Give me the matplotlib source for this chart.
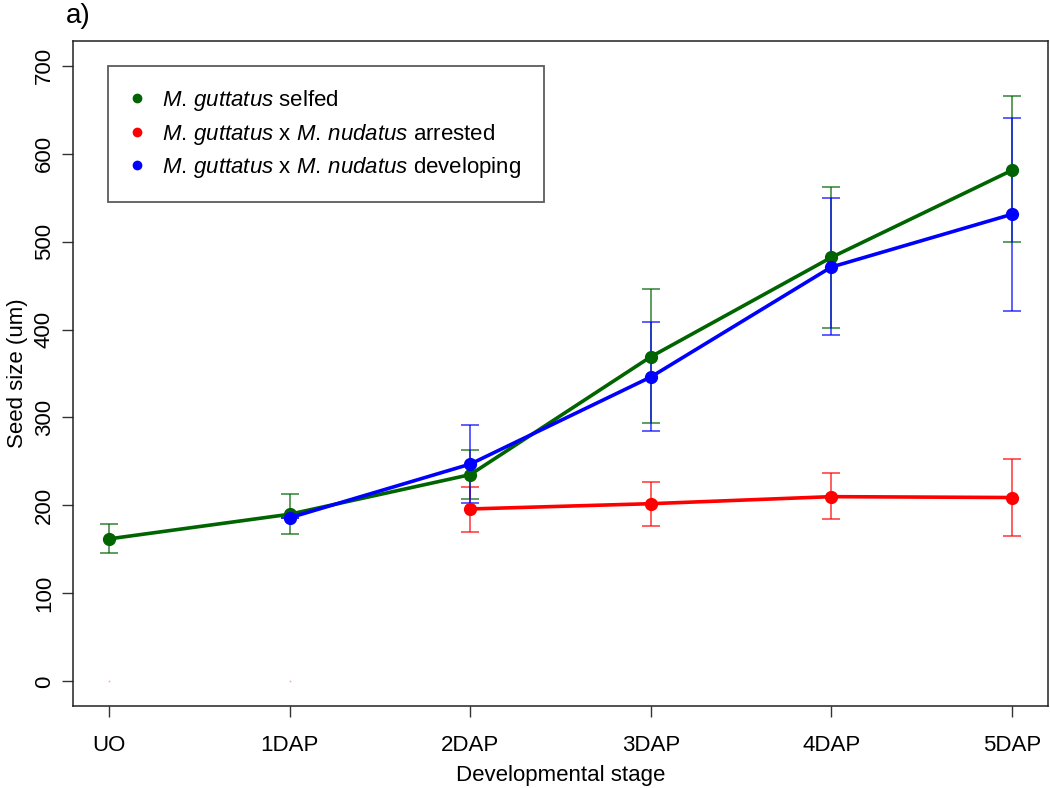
import numpy as np
import matplotlib.pyplot as plt
from matplotlib.lines import Line2D

plt.rcParams.update({
    'font.family': 'Liberation Sans',
    'mathtext.fontset': 'custom',
    'mathtext.rm': 'Liberation Sans',
    'mathtext.it': 'Liberation Sans:italic',
})

# ---- data ----
stages = ['UO', '1DAP', '2DAP', '3DAP', '4DAP', '5DAP']

selfed_mean = [162, 190, 235, 369, 482, 581]
selfed_lo = [146, 168, 207, 294, 402, 499]
selfed_hi = [179, 213, 263, 446, 562, 665]

arrested_mean = [196, 202, 210, 209]
arrested_lo = [170, 177, 185, 165]
arrested_hi = [221, 227, 237, 253]
arrested_zero = [0, 0]   # UO and 1DAP plotted as zero

developing_mean = [186, 247, 346, 471, 531]
developing_lo = [186, 203, 285, 394, 421]
developing_hi = [186, 292, 408, 549, 640]

x = np.arange(len(stages))

fig = plt.figure(figsize=(10.5, 7.88), dpi=100)
ax = fig.add_axes([73/1050, 82/788, 975/1050, 665/788])

def series(xs, mean, lo, hi, col):
    mean = np.array(mean); lo = np.array(lo); hi = np.array(hi)
    ax.errorbar(xs, mean, yerr=[mean - lo, hi - mean], fmt='none', ecolor=col,
                elinewidth=1.1, capsize=6.5, capthick=1.1, alpha=0.8, zorder=2)
    ax.plot(xs, mean, '-o', color=col, lw=2.6, ms=8.5, zorder=3)

series(x, selfed_mean, selfed_lo, selfed_hi, '#006400')
series(x[2:], arrested_mean, arrested_lo, arrested_hi, '#ff0000')
series(x[1:], developing_mean, developing_lo, developing_hi, '#0000ff')
ax.plot(x[:2], arrested_zero, 's', color='#ffaaaa', ms=1.2, mew=0, zorder=3)

ax.set_xlim(-0.2, 5.2)
ax.set_ylim(-28, 728)
ax.set_xticks(x)
ax.set_xticklabels(stages, fontsize=16)
ax.set_yticks(np.arange(0, 701, 100))
ax.set_yticklabels([str(v) for v in range(0, 701, 100)], fontsize=16,
                   rotation=90, va='center')
ax.tick_params(direction='out', length=8, width=1, color='#333333', pad=5)
ax.tick_params(axis='x', pad=13)
for s in ax.spines.values():
    s.set_color('#222222')
    s.set_linewidth(1.1)

ax.set_xlabel('Developmental stage', fontsize=16, labelpad=6)
ax.set_ylabel('Seed size (um)', fontsize=16, labelpad=4)

handles = [
    Line2D([], [], ls='none', marker='o', color='#006400', ms=6),
    Line2D([], [], ls='none', marker='o', color='#ff0000', ms=6),
    Line2D([], [], ls='none', marker='o', color='#0000ff', ms=6),
]
labels = [
    r'$\it{M.\,guttatus}$ selfed',
    r'$\it{M.\,guttatus}$ x $\it{M.\,nudatus}$ arrested',
    r'$\it{M.\,guttatus}$ x $\it{M.\,nudatus}$ developing',
]
leg = ax.legend(handles, labels, loc='upper left',
                bbox_to_anchor=((108 - 73) / 975, (706 - 66) / 665),
                fontsize=16, frameon=True, fancybox=False, borderpad=1.0,
                labelspacing=0.38, handlelength=0.6, handletextpad=0.85,
                borderaxespad=0)
leg.get_frame().set_edgecolor('#333333')
leg.get_frame().set_linewidth(1.3)

fig.text(66/1050, 1 - 16/788, 'a)', fontsize=20, va='center', ha='left')

fig.savefig('out.png', dpi=100)
